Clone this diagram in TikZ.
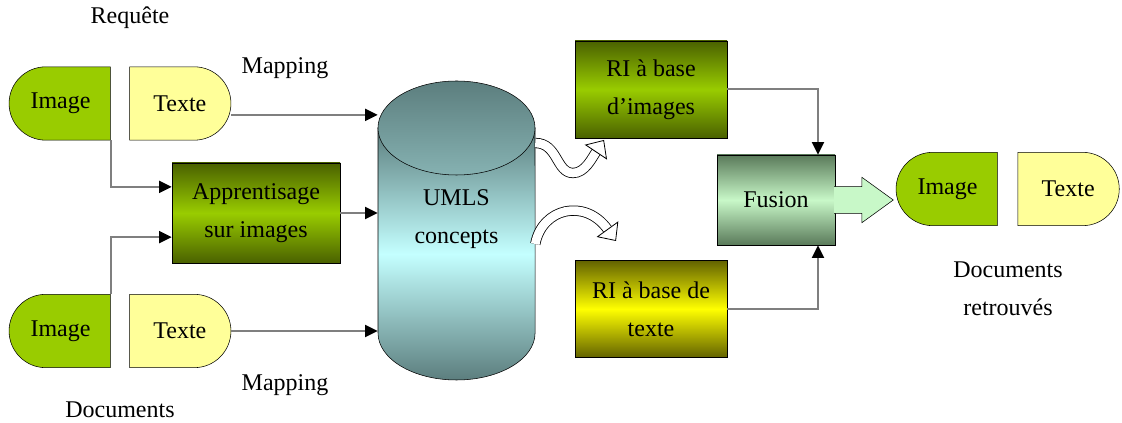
\documentclass[tikz,border=0pt]{standalone}
\usepackage{fontspec}
\setmainfont{Liberation Serif}
\usetikzlibrary{arrows.meta,positioning,shapes.misc,calc}
\definecolor{leaf}{HTML}{99CC00}
\definecolor{cream}{HTML}{FFFF99}
\definecolor{olive}{HTML}{4A6100}
\definecolor{mustard}{HTML}{626200}
\definecolor{lemon}{HTML}{FFFF00}
\definecolor{umlsdark}{HTML}{5C7E7E}
\definecolor{umlslight}{HTML}{C4FFFF}
\definecolor{moss}{HTML}{5A7A5A}
\definecolor{mint}{HTML}{C8F8C8}
\definecolor{wire}{HTML}{7F7F7F}
\tikzset{
  base/.style={font=\fontsize{18}{28.5}\selectfont,align=center,draw=black,thin,inner sep=0pt},
  imageleaf/.style={base,rounded rectangle,rounded rectangle right arc=none,fill=leaf,minimum width=76pt,minimum height=55pt},
  texteleaf/.style={base,rounded rectangle,rounded rectangle left arc=none,fill=cream,minimum width=76pt,minimum height=55pt},
  learnbox/.style={base,top color=olive,bottom color=olive,middle color=leaf},
  textbox/.style={base,top color=mustard,bottom color=mustard,middle color=lemon},
  fusebox/.style={base,top color=moss,bottom color=moss,middle color=mint},
  label/.style={font=\fontsize{18}{28.5}\selectfont,align=center,inner sep=0pt},
  flow/.style={draw=wire,line width=1.5pt,-{Triangle[length=9.5pt,width=9pt,color=black]}},
  swoop/.style={draw=black,line width=0.6pt,double=white,double distance=6.5pt,-{Triangle[length=11pt,width=20pt,fill=white]}},
  fusearrow/.style={draw=black,thin,fill=mint}
}
\begin{document}
\begin{tikzpicture}[x=0.75pt,y=-0.75pt]
\useasboundingbox (0,0) rectangle (1122,423);

% query and documents
\node[imageleaf] (imgq) at (60.5,103.5) {Image};
\node[texteleaf,right=14pt of imgq] (txtq) {Texte};
\node[imageleaf] (imgd) at (60.5,331) {Image};
\node[texteleaf,right=14pt of imgd] (txtd) {Texte};
\node[label] (requete) at (130,18) {Requête};
\node[label] (docs) at (120,410) {Documents};
\node[label] (mapq) at (285,68) {Mapping};
\node[label] (mapd) at (285,385) {Mapping};

\node[learnbox,minimum width=126pt,minimum height=75pt] (appr) at (256,213) {Apprentisage\\sur images};

% UMLS cylinder
\shade[top color=umlsdark,bottom color=umlsdark,middle color=umlslight,draw=black,thin]
  (378,128) -- (378,333) arc[start angle=180,end angle=360,x radius=58.9pt,y radius=35.25pt] -- (535,128) -- cycle;
\shade[top color=umlsdark,bottom color=umlsdark!60!umlslight,draw=black,thin]
  (456.5,128) ellipse[x radius=58.9pt,y radius=35.25pt];
\node[label,minimum width=117.75pt] (umls) at (456.5,219) {UMLS\\concepts};

% retrieval and fusion
\node[learnbox,minimum width=114pt,minimum height=73pt] (riimg) at (651,89.5) {RI à base\\d’images};
\node[textbox,minimum width=114pt,minimum height=73pt] (ritxt) at (651,309) {RI à base de\\texte};
\node[fusebox,minimum width=88.5pt,minimum height=67.5pt] (fusion) at (776,200) {Fusion};
\filldraw[fusearrow] ([xshift=-0.8pt,yshift=10pt]fusion.east) -- ++(20.8pt,0) -- ++(0,7pt)
  -- ++(23.5pt,-17pt) -- ++(-23.5pt,-17pt) -- ++(0,7pt) -- ++(-20.8pt,0);

\node[imageleaf] (imgr) at (947.5,189) {Image};
\node[texteleaf,right=15pt of imgr] (txtr) {Texte};
\node[label] (found) at (1008,289) {Documents\\retrouvés};

% connectors
\coordinate (mq) at ([yshift=-8.5pt]txtq.east);
\draw[flow] (imgq.south east) |- ($(appr.north west)!.24!(appr.south west)$);
\draw[flow] (imgd.north east) |- ($(appr.north west)!.74!(appr.south west)$);
\draw[flow] (mq) -- (mq -| umls.west);
\draw[flow] (txtd.east) -- (txtd.east -| umls.west);
\draw[flow] (appr.east) -- (appr.east -| umls.west);
\draw[flow] (riimg.east) -| ([xshift=31.5pt]fusion.north);
\draw[flow] (ritxt.east) -| ([xshift=31.5pt]fusion.south);

\coordinate (hopimg) at (604,140);
\coordinate (hoptxt) at (616,241);
\draw[swoop] ([yshift=57pt]umls.east) .. controls (558,143) and (556,173) .. (573,173) .. controls (585,173) and (592,158) .. (hopimg);
\draw[swoop] ([yshift=-18.75pt]umls.east) .. controls (542,208) and (585,198) .. (hoptxt);
\end{tikzpicture}
\end{document}
